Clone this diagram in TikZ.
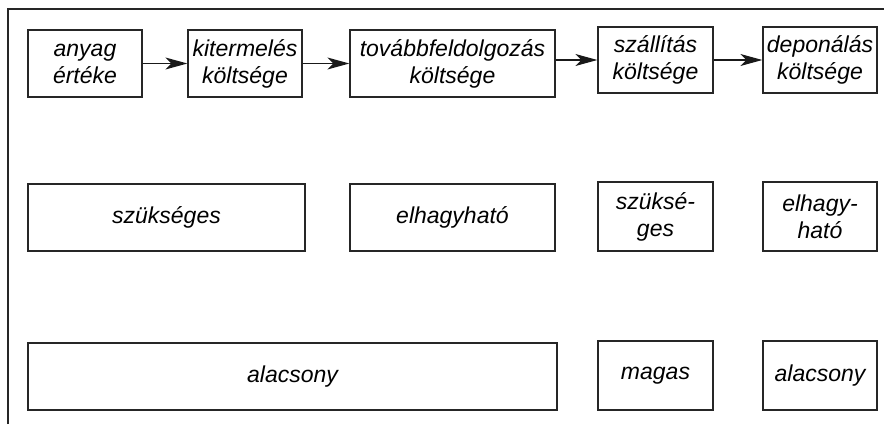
\documentclass[tikz,border=0pt]{standalone}
\usepackage{fontspec}
\setmainfont{Liberation Sans}
\usetikzlibrary{arrows.meta}
\begin{document}
\begin{tikzpicture}[x=1pt,y=1pt,
  box/.style={draw=black!85, line width=1.3pt, inner sep=0pt, align=center,
    font=\fontsize{23}{27}\selectfont\itshape},
  arr/.style={-{Stealth[length=22pt,width=12pt,inset=6pt]}, line width=1.2pt, black!90}]
\useasboundingbox (0,0) rectangle (884,424);
\draw[line width=1.3pt, black!85] (8,0) -- (8,415) -- (884,415);
% row 1
\node[box, minimum width=114pt, minimum height=67pt] (a) at (85,360.5) {anyag\\értéke};
\node[box, minimum width=114pt, minimum height=67pt] (b) at (245,360.5) {kitermelés\\költsége};
\node[box, minimum width=205pt, minimum height=67pt] (c) at (452.5,360.5) {továbbfeldolgozás\\költsége};
\node[box, minimum width=115pt, minimum height=66pt] (d) at (655.5,364) {szállítás\\költsége};
\node[box, minimum width=114pt, minimum height=66pt] (e) at (820,364) {deponálás\\költsége};
\draw[arr] (a.east) -- (a.east -| b.west);
\draw[arr] (b.east) -- (b.east -| c.west);
\draw[arr] (c.east |- d.west) -- (d.west);
\draw[arr] (d.east) -- (e.west);
% row 2
\node[box, minimum width=277pt, minimum height=67pt] (f) at (166.5,206.5) {szükséges};
\node[box, minimum width=205pt, minimum height=67pt] (g) at (452.5,206.5) {elhagyható};
\node[box, minimum width=115pt, minimum height=69pt] (h) at (655.5,207.5) {szüksé-\\ges};
\node[box, minimum width=114pt, minimum height=69pt] (i) at (820,207.5) {elhagy-\\ható};
% row 3
\node[box, minimum width=529pt, minimum height=67pt] (j) at (292.5,47.5) {alacsony};
\node[box, minimum width=115pt, minimum height=69pt] (k) at (655.5,48.5) {magas};
\node[box, minimum width=114pt, minimum height=69pt] (l) at (820,48.5) {alacsony};
\end{tikzpicture}
\end{document}
